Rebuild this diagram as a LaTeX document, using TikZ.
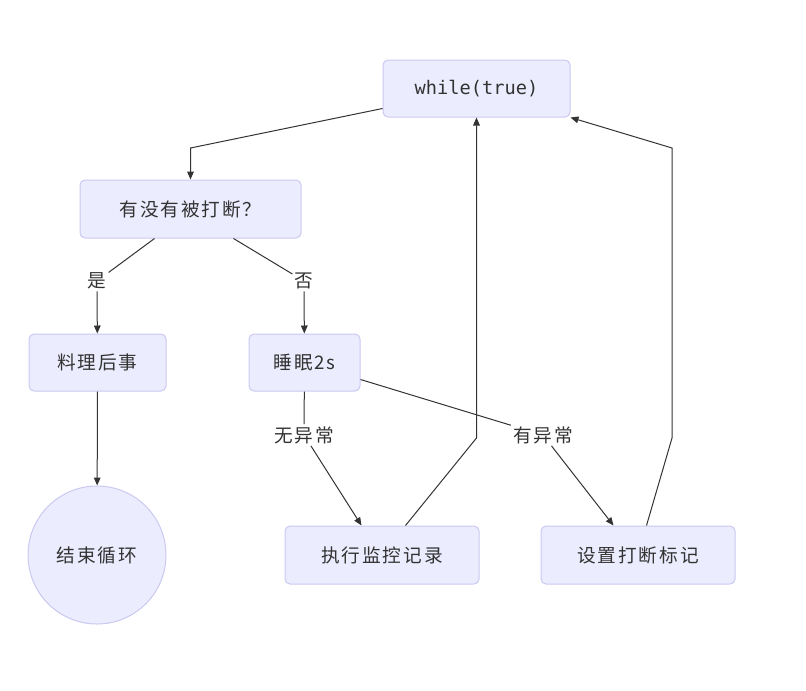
\documentclass[tikz,border=0pt]{standalone}
\usepackage{fontspec}
\newfontfamily\cjk[LetterSpace=10]{Noto Sans CJK SC}
\newfontfamily\mono{DejaVu Sans Mono}
\usetikzlibrary{arrows.meta,calc}
\definecolor{nfill}{HTML}{ECECFF}
\definecolor{nstroke}{HTML}{CBC8F0}
\definecolor{ink}{HTML}{333333}
\begin{document}
\begin{tikzpicture}[x=0.75pt,y=-0.75pt,
  box/.style={draw=nstroke, fill=nfill, rounded corners=3.75pt, line width=0.75pt,
    text=ink, inner sep=0pt, font=\cjk\fontsize{14}{16}\selectfont},
  lbl/.style={fill=white, text=ink, inner sep=1.5pt, font=\cjk\fontsize{14}{16}\selectfont},
  edge/.style={draw=ink, line width=0.75pt},
  arr/.style={edge, -{Triangle[length=6pt,width=5pt]}}]
\useasboundingbox (0,0) rectangle (806,690);
\node[box, minimum width=140.25pt, minimum height=42.75pt, font=\mono\fontsize{14}{16}\selectfont] (while) at (476.5,88.5) {while(true)};
\node[box, minimum width=165.75pt, minimum height=43.5pt] (q) at (190.5,209) {有没有被打断？};
\node[box, minimum width=102.75pt, minimum height=42.75pt] (food) at (97.5,362.5) {料理后事};
\node[box, minimum width=83.25pt, minimum height=42.75pt] (sleep) at (304.5,362.5) {睡眠2s};
\node[box, circle, minimum size=103.5pt] (end) at (97,555) {结束循环};
\node[box, minimum width=145.5pt, minimum height=43.5pt] (exec) at (382,555) {执行监控记录};
\node[box, minimum width=145.5pt, minimum height=43.5pt] (mark) at (638,555) {设置打断标记};
\node[lbl] (l1) at (97,281) {是};
\node[lbl] (l2) at (304,281) {否};
\node[lbl] (l3) at (304,435) {无异常};
\node[lbl] (l4) at (543,435) {有异常};
\draw[arr] ($(while.west)+(0,20)$) -- (190.5,148) -- (q.north);
\draw[edge] ($(q.south west)+(75,0)$) -- (l1);
\draw[arr] (l1) -- (food);
\draw[edge] ($(q.south west)+(154,0)$) -- (l2);
\draw[arr] (l2) -- (sleep);
\draw[arr] (food) -- (end);
\draw[edge] (sleep) -- (l3);
\draw[arr] (l3) -- ($(exec.north west)+(77,0)$);
\draw[edge] ($(sleep.east)+(0,17)$) -- (l4);
\draw[arr] (l4) -- ($(mark.north west)+(73,0)$);
\draw[arr] ($(exec.north west)+(121,0)$) -- (476.5,438) -- (while.south);
\draw[arr] ($(mark.north west)+(106,0)$) -- (672,438) -- (672,148) -- (while.south east);
\end{tikzpicture}
\end{document}
